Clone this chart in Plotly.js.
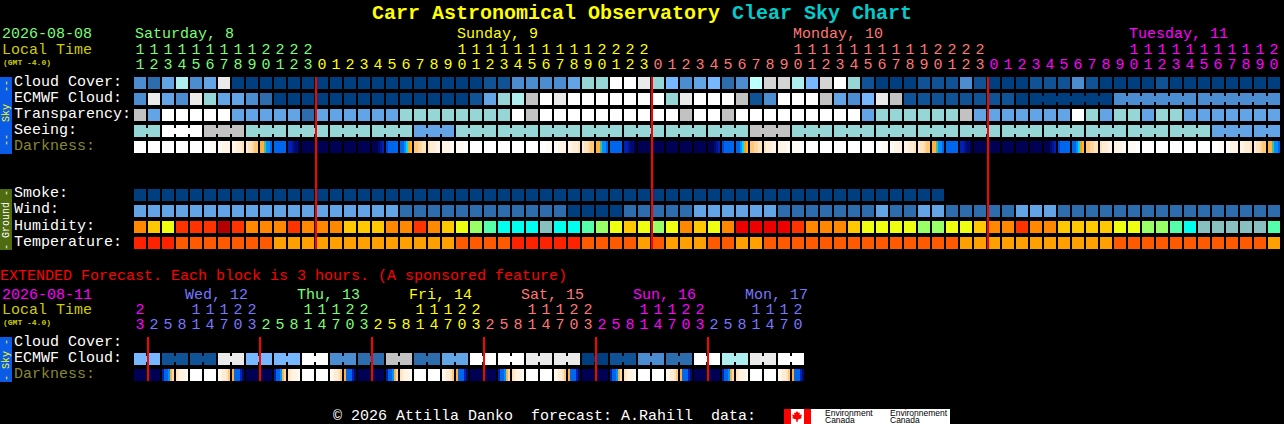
<!DOCTYPE html>
<html><head><meta charset="utf-8">
<script src="https://cdn.plot.ly/plotly-3.0.1.min.js"></script>
<style>html,body{margin:0;padding:0;background:#000;overflow:hidden}</style>
</head><body><div id="chart" style="width:1284px;height:424px"></div>
<script>
// Sky palette (levels used by cloud, transparency, seeing, wind, smoke)
const skyPalette = ['#003F7F','#0F5296','#2D6DAE','#4C8CD0','#63A4E6','#77B7FF','#96D6D6','#AEEEEE','#BBFFFF','#C2C2C2','#D4D4D4','#EAEAEA','#FFFFFF'];
const humidityPalette = ['#B40000','#EE0000','#FF3300','#FF8800','#FFC800','#EEFF11','#99FF66','#55FFAA','#00FFEE','#88C0C0'];
const temperaturePalette = ['#FF2200','#FF5A00','#FFA000'];
const darkPaletteKeys = 'abcdefghijklmnopqr';
const darkPalette = ['#FFFFFF','#FFFAF4','#FFF4E6','#FFECD4','#FFE2BE','#FFD5A0','#FFC878','#FFB040','#FFA000','#40C0A0','#00D8FF','#0090FF','#0066EE','#0044DD','#0020B8','#001490','#000A70','#000055'];

const hours = [11,12,13,14,15,16,17,18,19,20,21,22,23,
 0,1,2,3,4,5,6,7,8,9,10,11,12,13,14,15,16,17,18,19,20,21,22,23,
 0,1,2,3,4,5,6,7,8,9,10,11,12,13,14,15,16,17,18,19,20,21,22,23,
 0,1,2,3,4,5,6,7,8,9,10,11,12,13,14,15,16,17,18,19,20];
const cloudCover = [3,2,4,7,3,4,11,0,0,0,0,0,0,0,0,0,0,0,0,0,0,0,0,0,0,1,1,3,3,3,3,4,6,6,12,12,11,6,5,3,4,5,2,3,8,10,10,7,5,10,12,6,
 1,0,0,0,1,1,1,3,1,0,0,0,1,1,1,3,1,0,0,0,0,1,0,0,0,0,0,0,0,0];
const ecmwfCloud = [3,11,4,3,11,6,4,4,3,2,0,0,0,0,0,0,0,0,0,0,0,0,0,0,1,4,6,7,9,12,11,12,12,12,12,12,12,12,6,11,12,12,12,9,1,3,12,12,12,9,4,3,
 5,11,9,1,1,1,1,1,1,1,1,0,0,0,0,0,0,0,3,3,3,3,3,3,3,3,3,3,3,3];
const ecmwfBlocks = [[64,69],[70,75],[76,81]];
const transparency = [9,4,12,12,12,12,12,4,4,4,4,4,2,4,4,4,4,4,4,6,6,6,6,6,6,6,6,12,9,12,12,12,12,12,12,12,12,12,12,9,12,12,9,12,12,12,12,12,12,12,12,12,
 4,6,6,6,6,6,6,9,4,4,4,4,4,4,4,12,6,4,6,6,4,6,6,4,4,4,4,4,4,4];
const seeing = [6,6,12,12,12,9,9,9,6,6,6,6,6,6,6,6,6,6,6,6,4,4,4,6,6,6,6,6,6,6,6,6,6,6,6,6,6,6,6,6,6,6,6,6,9,9,9,6,6,6,6,6,
 6,6,6,6,6,6,6,6,6,6,6,6,6,6,6,6,6,6,6,6,6,6,6,6,6,4,4,4,4,4];
const seeingBlocks = [[0,1],[2,4],[5,7],[8,10],[11,13],[14,16],[17,19],[20,22],[23,25],[26,28],[29,31],[32,34],[35,37],[38,40],[41,43],[44,46],[47,49],[50,52],[53,55],[56,58],[59,61],[62,64],[65,67],[68,70],[71,73],[74,76],[77,79],[80,81]];
const darkness = [
 'aaaaaa','aaaaaa','aaaaaa','aaaaaa','aaaaaa','aaabbb','bbcccc','ccddde','deefgg','hhjllm','mmmmmm','oopqqr','rrrrrr',
 'rrrrrr','rrrrrr','rrrrrr','rrrrrr','rrrqpo','nmmmmm','mmlkih','ggffee','edddcc','ccccbb','bbbbaa',
 'aaaaaa','aaaaaa','aaaaaa','aaaaaa','aaaaaa','aaabbb','bbcccc','ccddde','deefgg','hhjllm','mmmmmm','oopqqr','rrrrrr',
 'rrrrrr','rrrrrr','rrrrrr','rrrrrr','rrrqpo','nmmmmm','mmlkih','ggffee','edddcc','ccccbb','bbbbaa',
 'aaaaaa','aaaaaa','aaaaaa','aaaaaa','aaaaaa','aaabbb','bbcccc','ccddde','deefgg','hhjllm','mmmmmm','oopqqr','rrrrrr',
 'rrrrrr','rrrrrr','rrrrrr','rrrrrr','rrrqpo','nmmmmm','mmlkih','ggffee','edddcc','ccccbb','bbbbaa',
 'aaaaaa','aaaaaa','aaaaaa','aaaaaa','aaaaaa','aaabbb','bbcccc','ccddde','deefgg','hhjllm'];
const smoke = [0,0,0,0,0,0,0,0,0,0,0,0,0,0,0,0,0,0,0,0,0,0,0,0,0,0,0,0,0,0,0,0,0,0,0,0,0,0,0,0,0,0,0,0,0,0,0,0,0,0,0,0,0,0,0,0,0,0];
const wind = [4,4,4,4,4,4,4,4,4,4,4,4,4,4,4,4,4,4,4,2,2,2,2,2,2,2,2,2,2,2,2,0,0,0,0,2,2,2,2,2,4,4,4,4,4,4,2,2,2,2,2,2,
 2,4,2,2,4,4,2,2,2,2,2,4,4,4,2,2,2,2,2,2,2,2,2,2,2,2,2,2,2,2];
const humidity = [3,4,5,2,2,2,0,2,3,3,3,2,3,3,3,4,4,4,3,3,2,3,4,5,6,7,8,8,8,9,8,8,7,6,5,4,5,6,5,3,4,5,3,1,1,1,1,2,3,3,3,4,
 5,5,5,5,6,6,5,5,4,3,3,2,3,3,4,4,4,4,5,5,6,6,7,8,9,9,9,9,9,7];
const temperature = [0,0,0,1,1,1,1,1,1,1,2,2,2,2,2,2,2,2,2,2,2,2,2,1,1,1,1,0,0,0,0,0,1,1,1,1,2,1,2,2,2,1,1,2,2,1,1,1,1,1,1,1,
 1,1,1,1,1,1,1,2,2,2,2,2,2,2,2,2,2,2,1,1,1,1,1,1,1,1,1,1,1,2];
const midnights = [12.571,36.571,60.571];

const extHours = [23,2,5,8,11,14,17,20,23,2,5,8,11,14,17,20,23,2,5,8,11,14,17,20,23,2,5,8,11,14,17,20,23,2,5,8,11,14,17,20,23,2,5,8,11,14,17,20];
const extEcmwf = [5,5,1,1,1,1,11,11,5,5,5,5,12,12,3,3,2,2,9,9,2,2,4,4,12,12,12,12,11,11,11,11,0,0,1,1,3,3,2,2,12,12,7,7,11,11,12,12];
const extBlocks = [[0,1],[2,3],[4,5],[6,7],[8,9],[10,11],[12,13],[14,15],[16,17],[18,19],[20,21],[22,23],[24,25],[26,27],[28,29],[30,31],[32,33],[34,35],[36,37],[38,39],[40,41],[42,43],[44,45],[46,47]];
const extDarkness = [
 'rrrrrr','rrrrrr','ommlhf','edcccb','aaaaaa','aaaaaa','bcddeg','hmmmoq',
 'rrrrrr','rrrrrr','ommlhf','edcccb','aaaaaa','aaaaaa','bcddeg','hmmmoq',
 'rrrrrr','rrrrrr','ommlhf','edcccb','aaaaaa','aaaaaa','bcddeg','hmmmoq',
 'rrrrrr','rrrrrr','ommlhf','edcccb','aaaaaa','aaaaaa','bcddeg','hmmmoq',
 'rrrrrr','rrrrrr','ommlhf','edcccb','aaaaaa','aaaaaa','bcddeg','hmmmoq',
 'rrrrrr','rrrrrr','ommlhf','edcccb','aaaaaa','aaaaaa','bcddeg','hmmmoq'];
const extMidnights = [0.571,8.571,16.571,24.571,32.571,40.571];

const GREEN='#77FF77', YEL='#FFFF00', SAL='#FF7777', MAG='#FF00FF', PERI='#7777FF';
const mainDayColors = [[13,GREEN],[37,YEL],[61,SAL],[82,MAG]];
const extDayColors = [[1,MAG],[9,PERI],[17,GREEN],[25,YEL],[33,SAL],[41,MAG],[48,PERI]];
const dayLabels = [['Saturday, 8',135,GREEN],['Sunday, 9',457,YEL],['Monday, 10',793,SAL],['Tuesday, 11',1129,MAG]];
const extDayLabels = [['Wed, 12',185,PERI],['Thu, 13',297,GREEN],['Fri, 14',409,YEL],['Sat, 15',521,SAL],['Sun, 16',633,MAG],['Mon, 17',745,PERI]];
const rowLabels = [['Cloud Cover:',82],['ECMWF Cloud:',98],['Transparency:',114],['Seeing:',130],['Smoke:',194],['Wind:',210],['Humidity:',226],['Temperature:',242],['Cloud Cover:',342],['ECMWF Cloud:',358]];

// ---- helpers
const W=1284,H=424,FONT='"Liberation Mono",monospace',SANS='"Liberation Sans",sans-serif';
const colX=p=>(p-140)/14, rowY=p=>(p-83)/16;
function scale(pal){const n=pal.length,s=[];pal.forEach((c,k)=>{s.push([k/n,c]);s.push([(k+1)/n,c]);});return s;}
const base=pal=>({type:'heatmap',colorscale:scale(pal),zmin:-0.5,zmax:pal.length-0.5,showscale:false,hoverinfo:'skip',zsmooth:false});
function row(vals,r,pal){return Object.assign(base(pal),{z:[vals],x0:0,dx:1,y0:r,dy:1,xgap:2,ygap:4});}
function links(vals,blocks,r,pal){
  const z=new Array(vals.length-1).fill(null);
  blocks.forEach(([a,b])=>{for(let i=a;i<b;i++)z[i]=vals[i];});
  return Object.assign(base(pal),{z:[z],x0:0.5,dx:1,y0:r,dy:1,xgap:12,ygap:10});
}
function darkRow(cells,r){
  const z=[];
  cells.forEach(s=>{for(const ch of s)z.push(darkPaletteKeys.indexOf(ch));z.push(null);});
  return Object.assign(base(darkPalette),{z:[z],x0:-5/14,dx:1/7,y0:r,dy:1,ygap:4});
}
function colorOf(i,table){for(const [e,c] of table)if(i<e)return c;return '#fff';}
function digits(hrs,table,yTens,yUnits){
  const xs=hrs.map((_,i)=>i),cols=hrs.map((_,i)=>colorOf(i,table));
  const f={family:FONT,size:15,color:cols};
  return [
   {type:'scatter',mode:'text',x:xs,y:hrs.map(()=>rowY(yTens)),text:hrs.map(h=>h>=10?String(Math.floor(h/10)):''),textposition:'middle center',textfont:f,hoverinfo:'skip'},
   {type:'scatter',mode:'text',x:xs,y:hrs.map(()=>rowY(yUnits)),text:hrs.map(h=>String(h%10)),textposition:'middle center',textfont:f,hoverinfo:'skip'}
  ];
}
function redLines(xsIn,y0,y1){
  const x=[],y=[];xsIn.forEach(v=>{x.push(v,v,null);y.push(rowY(y0),rowY(y1),null);});
  return {type:'scatter',mode:'lines',x,y,line:{color:'#FF0000',width:2},hoverinfo:'skip'};
}

const rExt=rowY(359), rExtDark=rowY(375);
const traces=[
 row(cloudCover,0,skyPalette),
 row(ecmwfCloud,1,skyPalette), links(ecmwfCloud,ecmwfBlocks,1,skyPalette),
 row(transparency,2,skyPalette),
 row(seeing,3,skyPalette), links(seeing,seeingBlocks,3,skyPalette),
 darkRow(darkness,4),
 row(smoke,7,skyPalette),
 row(wind,8,skyPalette),
 row(humidity,9,humidityPalette),
 row(temperature,10,temperaturePalette),
 row(extEcmwf,rExt,skyPalette), links(extEcmwf,extBlocks,rExt,skyPalette),
 darkRow(extDarkness,rExtDark),
 redLines(midnights,77,249),
 redLines(extMidnights,337,381),
 ...digits(hours,mainDayColors,50,65),
 ...digits(extHours,extDayColors,310,325)
];

function note(text,x,y,color,size,extra){
  return Object.assign({text,xref:'paper',yref:'paper',x:x/W,y:1-y/H,xanchor:'left',yanchor:'middle',showarrow:false,borderpad:0,borderwidth:0,
    font:{family:FONT,size:size||15,color:color||'#fff'}},extra||{});
}
function vnote(text,yc,color){
  return note(text,6,yc,color,10,{xanchor:'center',textangle:-90});
}
const logoFont={family:SANS,size:8.5,color:'#000'};
const annotations=[
 note('2026-08-08',2,35,GREEN), note('Local Time',2,50,'#CCCC00'), note('<b>(GMT -4.0)</b>',3,62,'#CCCC00',8),
 note('Darkness:',14,146,'#888833'),
 note('EXTENDED Forecast. Each block is 3 hours. (A sponsored feature)',0,276,'#FF0000'),
 note('2026-08-11',2,295,MAG), note('Local Time',2,310,'#CCCC00'), note('<b>(GMT -4.0)</b>',3,322,'#CCCC00',8),
 note('Darkness:',14,374,'#888833'),
 note('© 2026 Attilla Danko  forecast: A.Rahill  data:',333,416,'#FFFFFF'),
 vnote('--  Sky  --',113,'#FFFF00'), vnote('- Ground -',220,'#FFFFFF'), vnote('- Sky -',360,'#FFFF00'),
 note('Environment',825,413,'#000',8.5,{font:logoFont}),
 note('Canada',825,419.5,'#000',8.5,{font:logoFont}),
 note('Environnement',890,413,'#000',8.5,{font:logoFont}),
 note('Canada',890,419.5,'#000',8.5,{font:logoFont}),
 ...dayLabels.map(d=>note(d[0],d[1],35,d[2])),
 ...extDayLabels.map(d=>note(d[0],d[1],295,d[2])),
 ...rowLabels.map(d=>note(d[0],14,d[1],'#FFFFFF'))
];

const rect=(x0,y0,x1,y1,c)=>({type:'rect',xref:'paper',yref:'paper',x0:x0/W,x1:x1/W,y0:1-y0/H,y1:1-y1/H,fillcolor:c,line:{width:0},layer:'below'});
const leaf=[[797,411],[798.5,413],[800,412.5],[799.5,415],[802,414.5],[801,417],[802,418],[798,419.5],[797.5,422],[796.5,422],[796,419.5],[792,418],[793,417],[792,414.5],[794.5,415],[794,412.5],[795.5,413]];
const leafPath='M'+leaf.map(p=>(p[0]/W).toFixed(5)+','+(1-p[1]/H).toFixed(5)).join('L')+'Z';
const shapes=[
 rect(0,77,12,154,'#0A5CE6'), rect(0,189,12,250,'#4F6B10'), rect(0,337,12,382,'#0A5CE6'),
 rect(784,409,950,424,'#FFFFFF'), rect(784,409,791,424,'#FF0000'), rect(804,409,811,424,'#FF0000'),
 {type:'path',xref:'paper',yref:'paper',path:leafPath,fillcolor:'#FF0000',line:{width:0},layer:'below'}
];

const layout={
 width:W,height:H,margin:{l:0,r:0,t:0,b:0,pad:0},paper_bgcolor:'#000',plot_bgcolor:'rgba(0,0,0,0)',showlegend:false,
 title:{text:'<span style="color:#FFFF00">Carr Astronomical Observatory</span> <span style="color:#00CCCC">Clear Sky Chart</span>',
   font:{family:FONT,size:20,weight:'bold'},x:0.5,xanchor:'center',xref:'paper',y:1-12/H,yanchor:'middle',yref:'container'},
 xaxis:{range:[colX(0),colX(W)],visible:false,fixedrange:true},
 yaxis:{range:[rowY(H),rowY(0)],visible:false,fixedrange:true},
 shapes,annotations
};
Plotly.newPlot('chart',traces,layout,{staticPlot:true,displayModeBar:false});
</script></body></html>
